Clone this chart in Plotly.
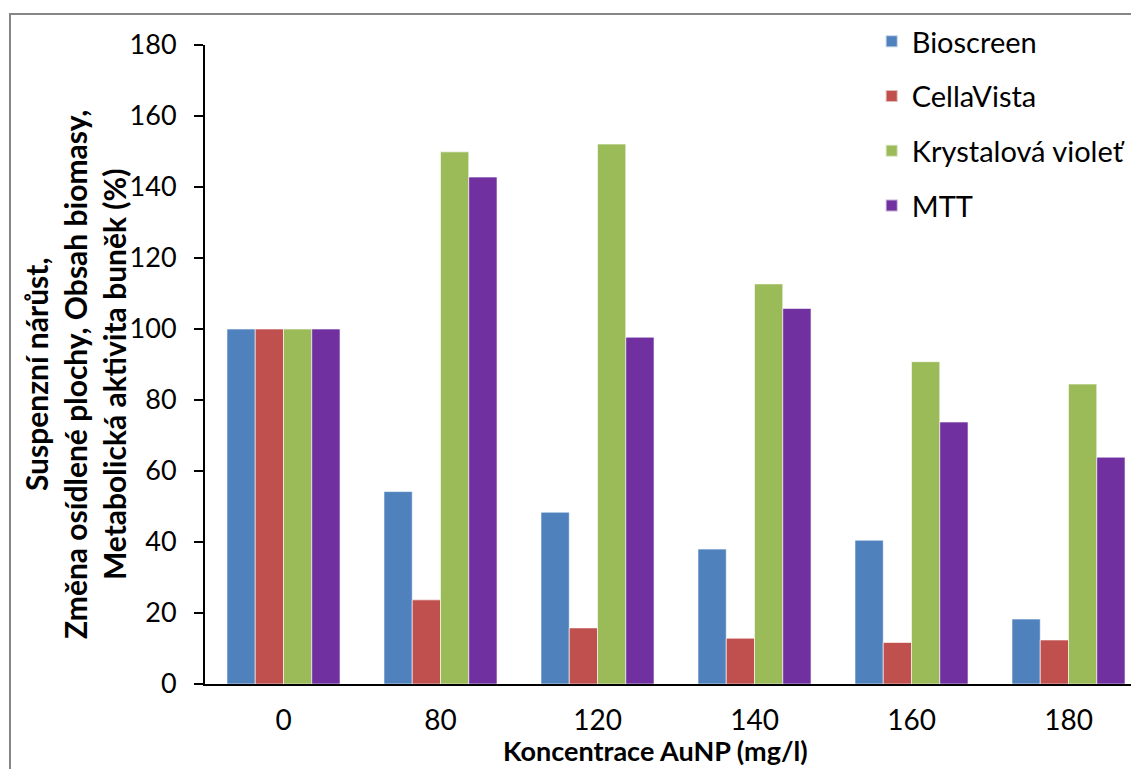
import plotly.graph_objects as go

categories = ["0", "80", "120", "140", "160", "180"]
bioscreen = [100, 54.2, 48.4, 38.0, 40.5, 18.3]
cellavista = [100, 23.7, 15.8, 12.9, 11.7, 12.4]
krystalova = [100, 149.9, 152.1, 112.7, 90.8, 84.5]
mtt = [100, 142.8, 97.7, 105.8, 73.8, 63.9]

series_names = ["Bioscreen", "CellaVista", "Krystalová violeť", "MTT"]
series_values = [bioscreen, cellavista, krystalova, mtt]
colors = ["#4F81BD", "#C0504D", "#9BBB59", "#7030A0"]
y_ticks = [0, 20, 40, 60, 80, 100, 120, 140, 160, 180]

font = "Lato, Roboto, sans-serif"

fig = go.Figure()
for name, vals, col in zip(series_names, series_values, colors):
    fig.add_trace(go.Bar(
        x=categories, y=vals, name=name, legendgroup=name,
        marker=dict(color=col, line=dict(color="rgba(255,255,255,0.6)", width=1)),
    ))

fig.update_layout(
    width=1131, height=769,
    margin=dict(l=205, r=0, t=45, b=85),
    paper_bgcolor="white", plot_bgcolor="white",
    barmode="group", bargap=0.28, bargroupgap=0,
    showlegend=True,
    legend=dict(
        x=0.72, y=(684 - 16) / 639, xanchor="left", yanchor="top",
        font=dict(family=font, size=29, color="black"),
        itemsizing="constant", tracegroupgap=14, traceorder="grouped",
        bgcolor="rgba(0,0,0,0)",
    ),
    xaxis=dict(
        type="category", range=[-0.5, 5.398],
        showline=True, linecolor="#000000", linewidth=2,
        ticks="", showgrid=False,
        tickfont=dict(family=font, size=28, color="black"),
        ticklabelstandoff=10,
    ),
    yaxis=dict(
        range=[0, 180], tickvals=y_ticks,
        showline=True, linecolor="#000000", linewidth=2,
        ticks="outside", ticklen=9, tickwidth=1.5, tickcolor="#000000",
        showgrid=False, zeroline=False,
        tickfont=dict(family=font, size=27, color="black"),
        ticklabelstandoff=12,
    ),
    shapes=[dict(
        type="rect", xref="paper", yref="paper",
        x0=-0.2106, y0=-0.3, x1=1.2, y1=(684 - 14) / 639,
        line=dict(color="#868686", width=2), layer="below",
    )],
    annotations=[
        dict(text="<b>Koncentrace AuNP (mg/l)</b>", xref="paper", yref="paper",
             x=(655 - 205) / 926, y=(684 - 769) / 639, xanchor="center", yanchor="bottom",
             showarrow=False, font=dict(family=font, size=27, color="black")),
        dict(text="<b>Suspenzní nárůst,<br>Změna osídlené plochy, Obsah biomasy,<br>Metabolická aktivita buněk (%)</b>",
             xref="paper", yref="paper",
             x=(75 - 205) / 926, y=(684 - 375) / 639, xanchor="center", yanchor="middle",
             textangle=-90, showarrow=False,
             font=dict(family=font, size=30, color="black")),
    ],
)

fig.write_html("out.html")
